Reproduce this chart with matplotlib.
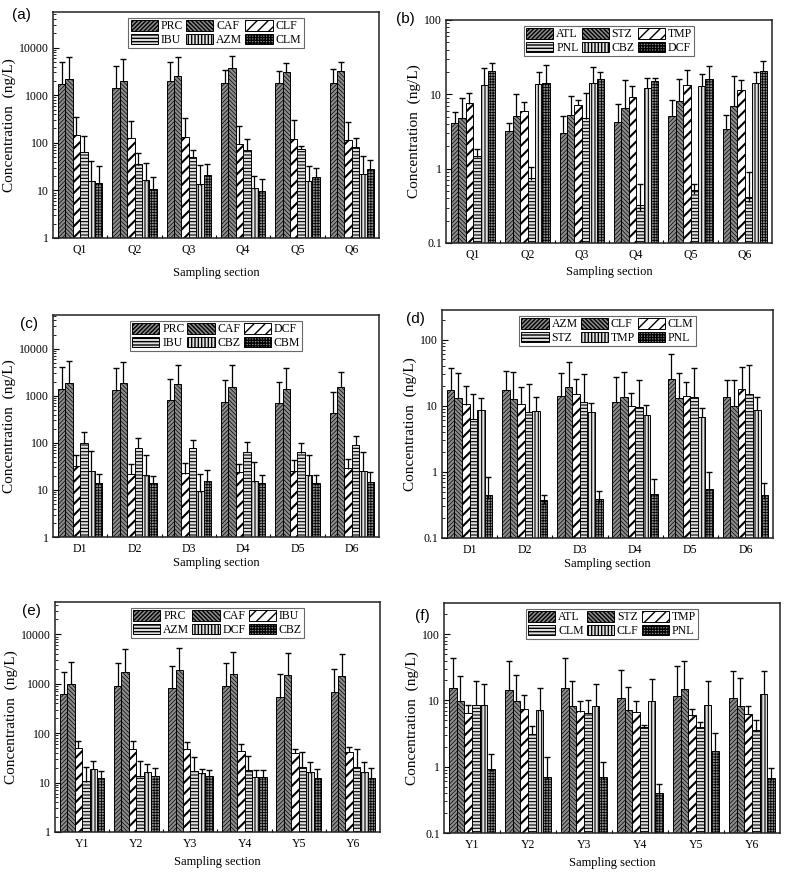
import numpy as np
import matplotlib
matplotlib.use("Agg")
import matplotlib.pyplot as plt
from matplotlib.ticker import FixedLocator, LogLocator, NullFormatter

plt.rcParams['font.family'] = ['Liberation Serif', 'DejaVu Serif']
plt.rcParams['hatch.color'] = 'black'

# ---- data (ng/L): rows = compounds, columns = sampling sections ----
a_sections = ['Q1', 'Q2', 'Q3', 'Q4', 'Q5', 'Q6']
a_compounds = ['PRC', 'CAF', 'CLF', 'IBU', 'AZM', 'CLM']
a_values = [[1750, 1400, 2000, 1800, 1800, 1800],
            [2200, 2000, 2550, 3700, 3000, 3300],
            [147, 125, 135, 95, 121, 115],
            [64, 35, 50, 69, 74, 81],
            [15.5, 16, 13, 10.6, 15.5, 22],
            [14, 10, 21, 9.1, 18.8, 27]]
a_upper = [[5100, 4150, 5100, 3400, 3300, 3550],
           [6300, 5700, 6500, 6700, 4700, 5000],
           [356, 290, 330, 230, 295, 280],
           [140, 60, 71, 120, 87, 125],
           [42, 37, 35, 20, 33, 52],
           [32, 19, 36, 17.5, 29, 43]]

b_sections = ['Q1', 'Q2', 'Q3', 'Q4', 'Q5', 'Q6']
b_compounds = ['ATL', 'STZ', 'TMP', 'PNL', 'CBZ', 'DCF']
b_values = [[4.1, 3.2, 3.0, 4.25, 5.1, 3.35],
            [4.7, 5.0, 5.2, 6.4, 8.2, 7.0],
            [7.5, 6.0, 7.1, 9.2, 13.5, 11.4],
            [1.44, 0.70, 4.7, 0.27, 0.46, 0.36],
            [13.5, 13.7, 14.3, 12, 12.8, 14],
            [20.7, 14, 15.9, 15, 15.8, 20.7]]
b_upper = [[5.7, 4.1, 5.1, 7.4, 8.3, 5.2],
           [8.8, 10.2, 9.5, 15.5, 16, 17.5],
           [10.4, 7.9, 8.3, 13, 21.5, 15.5],
           [1.82, 1.05, 10.4, 0.63, 0.63, 0.9],
           [22.4, 20, 23, 16.8, 18.8, 20],
           [26.8, 24.7, 20, 16.7, 24, 28]]

c_sections = ['D1', 'D2', 'D3', 'D4', 'D5', 'D6']
c_compounds = ['PRC', 'CAF', 'DCF', 'IBU', 'CBZ', 'CBM']
c_values = [[1380, 1320, 810, 720, 710, 440],
            [1900, 1830, 1760, 1550, 1380, 1500],
            [32, 21.5, 22, 23, 24.5, 28.5],
            [97, 76, 76, 64, 62, 89],
            [25, 20, 9, 15, 20, 25],
            [13.6, 13.6, 15, 13.6, 13.4, 14.6]]
c_upper = [[4000, 3800, 2240, 2150, 2000, 1220],
           [5500, 5300, 4500, 4450, 3800, 3250],
           [56, 35, 38, 35, 43, 46.5],
           [170, 128, 114, 105, 101, 140],
           [68, 56, 22, 39, 55, 64],
           [22, 19.5, 26, 21, 21, 24]]

d_sections = ['D1', 'D2', 'D3', 'D4', 'D5', 'D6']
d_compounds = ['AZM', 'CLF', 'CLM', 'STZ', 'TMP', 'PNL']
d_values = [[17.5, 17, 14.2, 11.4, 25.7, 13.4],
            [13.1, 12.8, 19.0, 13.6, 13.1, 9.8],
            [10.4, 10.6, 15.1, 9.8, 14.2, 18.1],
            [6.2, 8.1, 11.3, 9.6, 13.4, 14.8],
            [8.5, 8.4, 8.0, 7.3, 6.8, 8.6],
            [0.39, 0.33, 0.34, 0.41, 0.51, 0.39]]
d_upper = [[37, 34, 31.3, 27.3, 60.8, 24.3],
           [31.3, 32, 45.5, 32.4, 31.3, 24.3],
           [19.7, 19.3, 25.4, 15.6, 22.9, 38.6],
           [15.3, 21.3, 30.6, 24.9, 37.2, 41.8],
           [13.1, 13.6, 11.0, 10.3, 9.3, 13.6],
           [0.83, 0.44, 0.52, 0.79, 0.99, 0.68]]

e_sections = ['Y1', 'Y2', 'Y3', 'Y4', 'Y5', 'Y6']
e_compounds = ['PRC', 'CAF', 'IBU', 'AZM', 'DCF', 'CBZ']
e_values = [[615, 910, 810, 880, 550, 695],
            [990, 1760, 1900, 1580, 1510, 1440],
            [50, 47.5, 47.5, 42.6, 39.3, 40.7],
            [10.2, 12.9, 16.8, 17.3, 20.3, 20.5],
            [18.7, 15.9, 14.8, 12.7, 15.9, 15.5],
            [11.8, 13.3, 12.9, 12.7, 11.9, 11.9]]
e_upper = [[1750, 2670, 2300, 2600, 1580, 1970],
           [2800, 5000, 5200, 4450, 4260, 4000],
           [68, 68, 65.9, 59.8, 47.5, 51.4],
           [20.5, 26.8, 32.3, 33.8, 40.7, 48],
           [26.8, 24, 19, 18.1, 25.5, 26],
           [16.8, 19.3, 18.1, 17.6, 18.8, 19.7]]

f_sections = ['Y1', 'Y2', 'Y3', 'Y4', 'Y5', 'Y6']
f_compounds = ['ATL', 'STZ', 'TMP', 'CLM', 'CLF', 'PNL']
f_values = [[15.5, 14.4, 15.5, 10.9, 11.8, 10.7],
            [9.9, 9.9, 8.3, 7.0, 14.6, 8.1],
            [6.4, 7.4, 6.8, 6.6, 5.9, 6.3],
            [8.4, 3.1, 6.4, 3.9, 3.9, 3.5],
            [8.5, 7.0, 8.2, 9.7, 8.5, 12.3],
            [0.87, 0.65, 0.65, 0.35, 1.7, 0.63]]
f_upper = [[43.5, 38.7, 43.5, 28.9, 32.9, 27.6],
           [23.7, 24.3, 19.9, 16.2, 40, 21.9],
           [8.4, 12.1, 9.7, 9.7, 7.4, 8.1],
           [19.3, 4.07, 10.3, 4.3, 4.8, 5.1],
           [17.8, 15.5, 17.8, 21.1, 19.9, 27.6],
           [1.55, 1.42, 1.16, 0.55, 3.2, 0.94]]

# fill patterns for the six series (same order in every panel)
faces = ['#8c8c8c', '#8c8c8c', 'white', '#e0e0e0', '#e0e0e0', '#8c8c8c']
hatches = ['////////', '\\\\\\\\\\\\\\\\', '///', '-----', '|||||', '++++++']
hatch_lw = [0.5, 0.5, 1.5, 0.8, 0.8, 0.6]

fig = plt.figure(figsize=(7.87, 8.77), dpi=100)
W, H = 787.0, 877.0


def px_axes(l, t, r, b):
    return fig.add_axes([l / W, 1 - b / H, (r - l) / W, (b - t) / H])


def panel(ax, sections, compounds, values, upper, ylim, yticks, ylabels, xpad):
    x = np.arange(1, len(sections) + 1)
    w = 0.137
    for i, name in enumerate(compounds):
        xi = x + (i - 2.5) * w
        with plt.rc_context({'hatch.linewidth': hatch_lw[i]}):
            bars = ax.bar(xi, values[i], width=w, bottom=ylim[0] * 0.5,
                          facecolor=faces[i], edgecolor='black', linewidth=0.7,
                          hatch=hatches[i], label=name, zorder=2)
        for bb in bars:
            if hasattr(bb, 'set_hatch_linewidth'):
                bb.set_hatch_linewidth(hatch_lw[i])
        ax.vlines(xi, values[i], upper[i], color='black', lw=0.9, zorder=3)
        ax.plot(xi, upper[i], ls='none', marker='_', ms=5, mew=1.0,
                color='black', zorder=3)
    ax.set_yscale('log')
    ax.set_ylim(*ylim)
    ax.set_xlim(0.5, len(sections) + 0.5)
    ax.yaxis.set_major_locator(FixedLocator(yticks))
    ax.set_yticklabels(ylabels)
    ax.yaxis.set_minor_locator(LogLocator(base=10, subs=np.arange(2, 10)))
    ax.yaxis.set_minor_formatter(NullFormatter())
    ax.set_xticks(x)
    ax.set_xticklabels(sections)
    ax.set_xticks(x[:-1] + 0.5, minor=True)
    ax.tick_params(axis='y', which='major', direction='in', length=4,
                   width=0.8, labelsize=8.5, pad=3)
    ax.tick_params(axis='y', which='minor', direction='in', length=2,
                   width=0.6)
    ax.tick_params(axis='x', which='major', length=0, labelsize=8.5, pad=4)
    ax.tick_params(axis='x', which='minor', direction='in', length=2,
                   width=0.8)
    for s in ax.spines.values():
        s.set_linewidth(1.1)
        s.set_color('#222222')
    ax.set_xlabel('Sampling section', fontsize=9, labelpad=xpad)
    ax.set_ylabel('Concentration  (ng/L)', fontsize=11, labelpad=2)
    h, l = ax.get_legend_handles_labels()
    order = [0, 3, 1, 4, 2, 5]
    leg = ax.legend([h[k] for k in order], [l[k] for k in order],
                    loc='upper center', ncol=3, fontsize=8.5,
                    bbox_to_anchor=(0.5, 0.985), frameon=True, fancybox=False,
                    handlelength=2.3, handleheight=1.0, columnspacing=0.25,
                    handletextpad=0.25, labelspacing=0.1, borderpad=0.2,
                    borderaxespad=0.2)
    leg.get_frame().set_edgecolor('#444444')
    leg.get_frame().set_linewidth(0.8)


big = [1, 10, 100, 1000, 10000]
big_lab = ['1', '10', '100', '1000', '10000']
small = [0.1, 1, 10, 100]
small_lab = ['0.1', '1', '10', '100']

ax = px_axes(53, 12, 379, 238)
panel(ax, a_sections, a_compounds, a_values, a_upper, (1, 56000), big, big_lab, 8)
ax = px_axes(446, 20, 772, 243)
panel(ax, b_sections, b_compounds, b_values, b_upper, (0.1, 100), small, small_lab, 4)
ax = px_axes(53, 315, 379, 537)
panel(ax, c_sections, c_compounds, c_values, c_upper, (1, 52000), big, big_lab, 2)
ax = px_axes(442, 310, 773, 538)
panel(ax, d_sections, d_compounds, d_values, d_upper, (0.1, 280), small, small_lab, 1.5)
ax = px_axes(55, 602, 380, 832)
panel(ax, e_sections, e_compounds, e_values, e_upper, (1, 45000), big, big_lab, 5)
ax = px_axes(444, 603, 780, 833)
panel(ax, f_sections, f_compounds, f_values, f_upper, (0.1, 295), small, small_lab, 4.5)

for lab, xp, yp in [('(a)', 12, 8), ('(b)', 396, 12), ('(c)', 20, 317),
                    ('(d)', 406, 312), ('(e)', 22, 604), ('(f)', 415, 609)]:
    fig.text(xp / W, 1 - yp / H, lab, ha='left', va='top', fontsize=11,
             family=['Liberation Sans', 'DejaVu Sans'])

fig.savefig('out.png', dpi=100)
